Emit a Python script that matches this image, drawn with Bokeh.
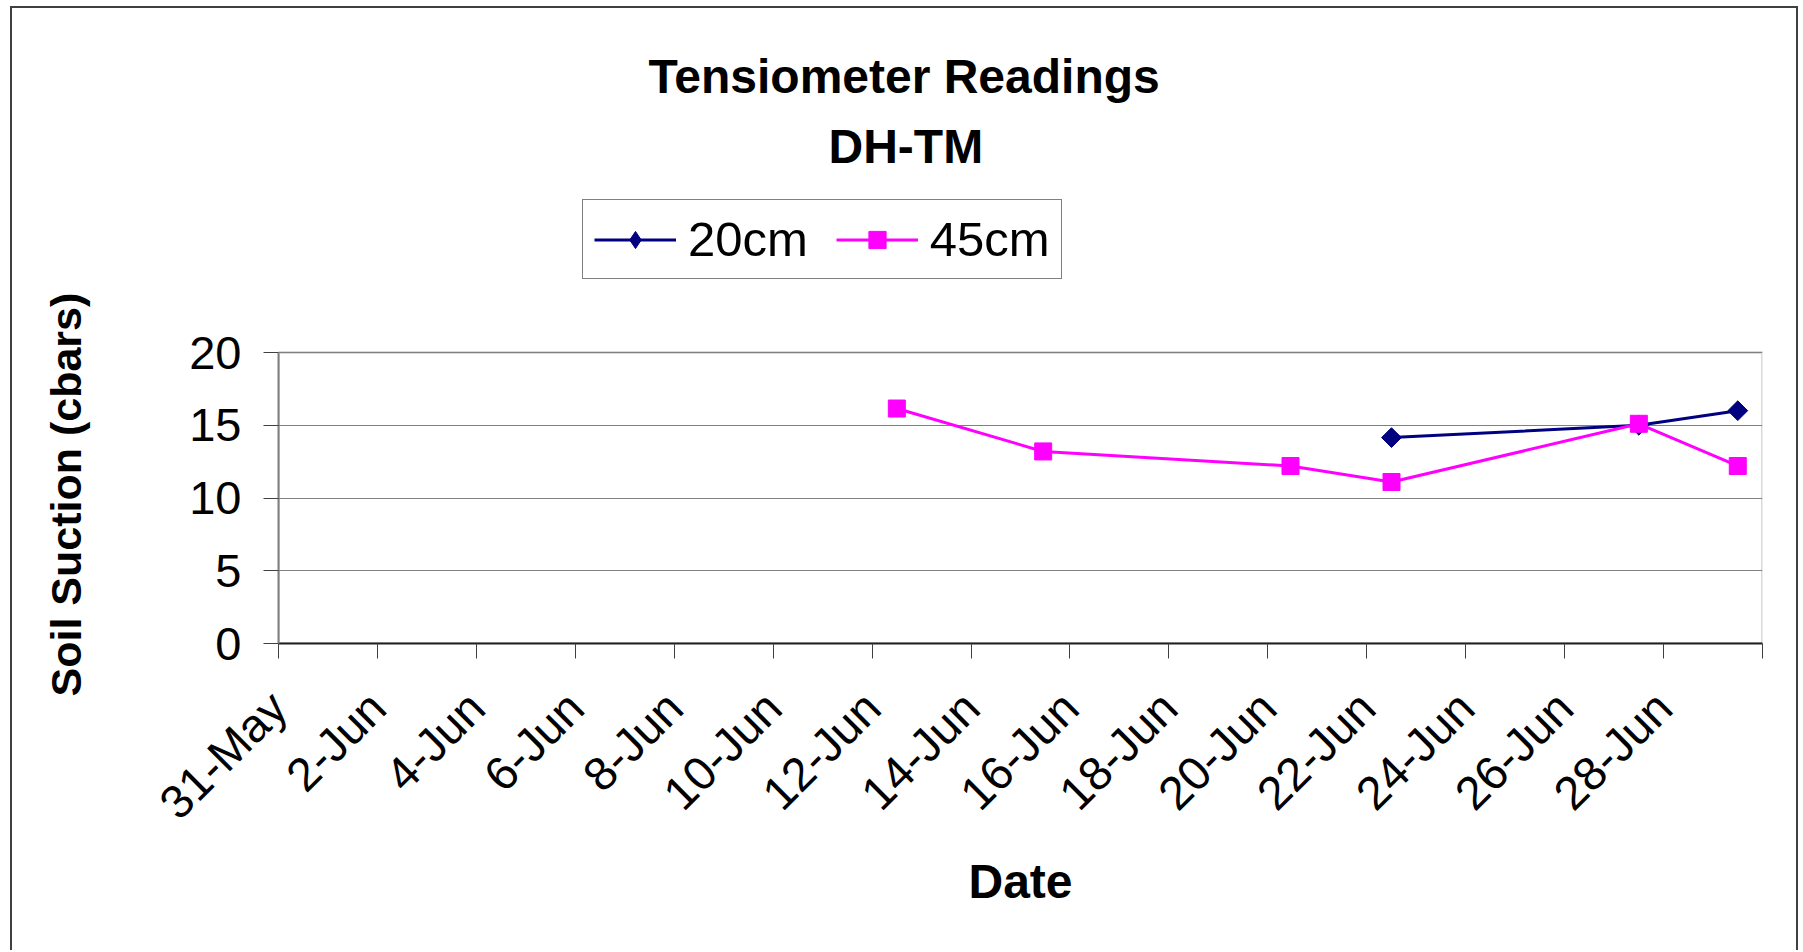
import numpy as np
import pandas as pd
from bokeh.plotting import figure
from bokeh.models import Range1d, FixedTicker, Legend, LegendItem, Title, BoxAnnotation
from bokeh.embed import file_html
from bokeh.resources import INLINE

# ---- data ----
start_date = "2008-05-31"
tick_days = list(range(0, 31, 2))
tick_labels = ["31-May", "2-Jun", "4-Jun", "6-Jun", "8-Jun", "10-Jun", "12-Jun", "14-Jun",
               "16-Jun", "18-Jun", "20-Jun", "22-Jun", "24-Jun", "26-Jun", "28-Jun", ""]
y_ticks = [0, 5, 10, 15, 20]

dates_20 = ["2008-06-22 12:00", "2008-06-27 12:00", "2008-06-29 12:00"]
vals_20 = [14.15, 15.0, 16.0]

dates_45 = ["2008-06-12 12:00", "2008-06-15 11:00", "2008-06-20 11:00",
            "2008-06-22 12:00", "2008-06-27 12:00", "2008-06-29 12:00"]
vals_45 = [16.15, 13.2, 12.2, 11.1, 15.1, 12.2]

t0 = pd.Timestamp(start_date)
x20 = list((pd.to_datetime(dates_20) - t0) / pd.Timedelta(days=1))
x45 = list((pd.to_datetime(dates_45) - t0) / pd.Timedelta(days=1))

FONT = "Liberation Sans"
NAVY = "#000080"
MAGENTA = "#FF00FF"

# layout (canvas pixels): plot area 0..20 spans 291 px; frame extends upward to hold the legend
AREA_TOP, AREA_BOTTOM, FRAME_TOP = 344, 635, 177
Y_MAX = 20.0
Y_TOP = Y_MAX * (AREA_BOTTOM - FRAME_TOP) / (AREA_BOTTOM - AREA_TOP)

p = figure(width=1788, height=944, output_backend="svg", toolbar_location=None,
           x_range=Range1d(0, 30), y_range=Range1d(0, Y_TOP),
           min_border_left=266, min_border_right=38, min_border_top=FRAME_TOP,
           min_border_bottom=944 - AREA_BOTTOM)
p.title = None
p.styles = {"margin-left": "10px", "margin-top": "6px",
            "border-left": "2px solid #404040", "border-top": "2px solid #404040",
            "border-right": "2px solid #404040"}
p.background_fill_color = "white"
p.border_fill_color = "white"
p.outline_line_color = None

# plot-area frame (top and right edges in grey)
p.add_layout(BoxAnnotation(bottom=0, top=Y_MAX, fill_alpha=0.0,
                           line_color="#808080", line_width=3, level="underlay"))

# grid
p.xgrid.visible = False
p.ygrid.grid_line_color = "#808080"
p.ygrid.grid_line_width = 1

# y axis
p.yaxis.ticker = FixedTicker(ticks=y_ticks)
p.yaxis.bounds = (0, Y_MAX)
p.yaxis.major_label_text_font = FONT
p.yaxis.major_label_text_font_size = "47px"
p.yaxis.major_label_text_color = "black"
p.yaxis.major_tick_out = 15
p.yaxis.major_tick_in = 0
p.yaxis.minor_tick_out = 0
p.yaxis.minor_tick_in = 0
p.yaxis.axis_line_color = "#808080"
p.yaxis.axis_line_width = 2
p.yaxis.major_tick_line_color = "#404040"
p.yaxis.major_label_standoff = 22
# y axis title (placed beside the 0..20 plot area rather than the whole frame)
p.add_layout(Title(text=" ", text_font=FONT, text_font_size="16px", standoff=73), "left")
p.add_layout(Title(text="Soil Suction (cbars)", align="left", offset=-53, standoff=10,
                   text_font=FONT, text_font_size="43px", text_font_style="bold",
                   text_color="black"), "left")

# x axis
p.xaxis.ticker = FixedTicker(ticks=tick_days)
p.xaxis.major_label_overrides = {d: lab for d, lab in zip(tick_days, tick_labels)}
p.xaxis.major_label_orientation = np.pi / 4
p.xaxis.major_label_text_font = FONT
p.xaxis.major_label_text_font_size = "47px"
p.xaxis.major_label_text_color = "black"
p.xaxis.major_tick_out = 15
p.xaxis.major_tick_in = 0
p.xaxis.minor_tick_out = 0
p.xaxis.minor_tick_in = 0
p.xaxis.axis_line_color = "#202020"
p.xaxis.axis_line_width = 2
p.xaxis.major_tick_line_color = "#404040"
p.xaxis.major_label_standoff = 41
p.xaxis.axis_label = "Date"
p.xaxis.axis_label_text_font = FONT
p.xaxis.axis_label_text_font_style = "bold"
p.xaxis.axis_label_text_font_size = "48px"
p.xaxis.axis_label_text_color = "black"
p.xaxis.axis_label_standoff = 4

# series
l20 = p.line(x20, vals_20, line_color=NAVY, line_width=3)
s20 = p.scatter(x20, vals_20, marker="square", angle=np.pi / 4, size=14,
                fill_color=NAVY, line_color=NAVY)
l45 = p.line(x45, vals_45, line_color=MAGENTA, line_width=3)
s45 = p.scatter(x45, vals_45, marker="square", size=17,
                fill_color=MAGENTA, line_color=MAGENTA)
# legend sample for the diamond marker (legend samples are drawn unrotated); not drawn in the plot
d20 = p.scatter([np.nan], [np.nan], marker="diamond", size=20, fill_color=NAVY, line_color=NAVY)

legend = Legend(items=[LegendItem(label="20cm", renderers=[l20, d20]),
                       LegendItem(label="45cm", renderers=[l45, s45])],
                orientation="horizontal", location=(304, AREA_BOTTOM - 271), margin=0,
                glyph_width=82, glyph_height=43, label_height=43,
                label_standoff=12, spacing=28, padding=11,
                label_text_font=FONT, label_text_font_size="49px", label_text_color="black",
                border_line_color="#000000", border_line_width=1,
                background_fill_color="white", background_fill_alpha=1.0)
p.add_layout(legend)

# title (two lines) + top spacer
p.add_layout(Title(text="DH-TM", align="left", offset=550, standoff=26,
                   text_font=FONT, text_font_size="48px", text_font_style="bold",
                   text_color="black"), "above")
p.add_layout(Title(text="Tensiometer Readings", align="left", offset=370, standoff=4,
                   text_font=FONT, text_font_size="48px", text_font_style="bold",
                   text_color="black"), "above")
p.add_layout(Title(text=" ", text_font=FONT, text_font_size="16px"), "above")

open("out.html", "w").write(file_html(p, INLINE))
